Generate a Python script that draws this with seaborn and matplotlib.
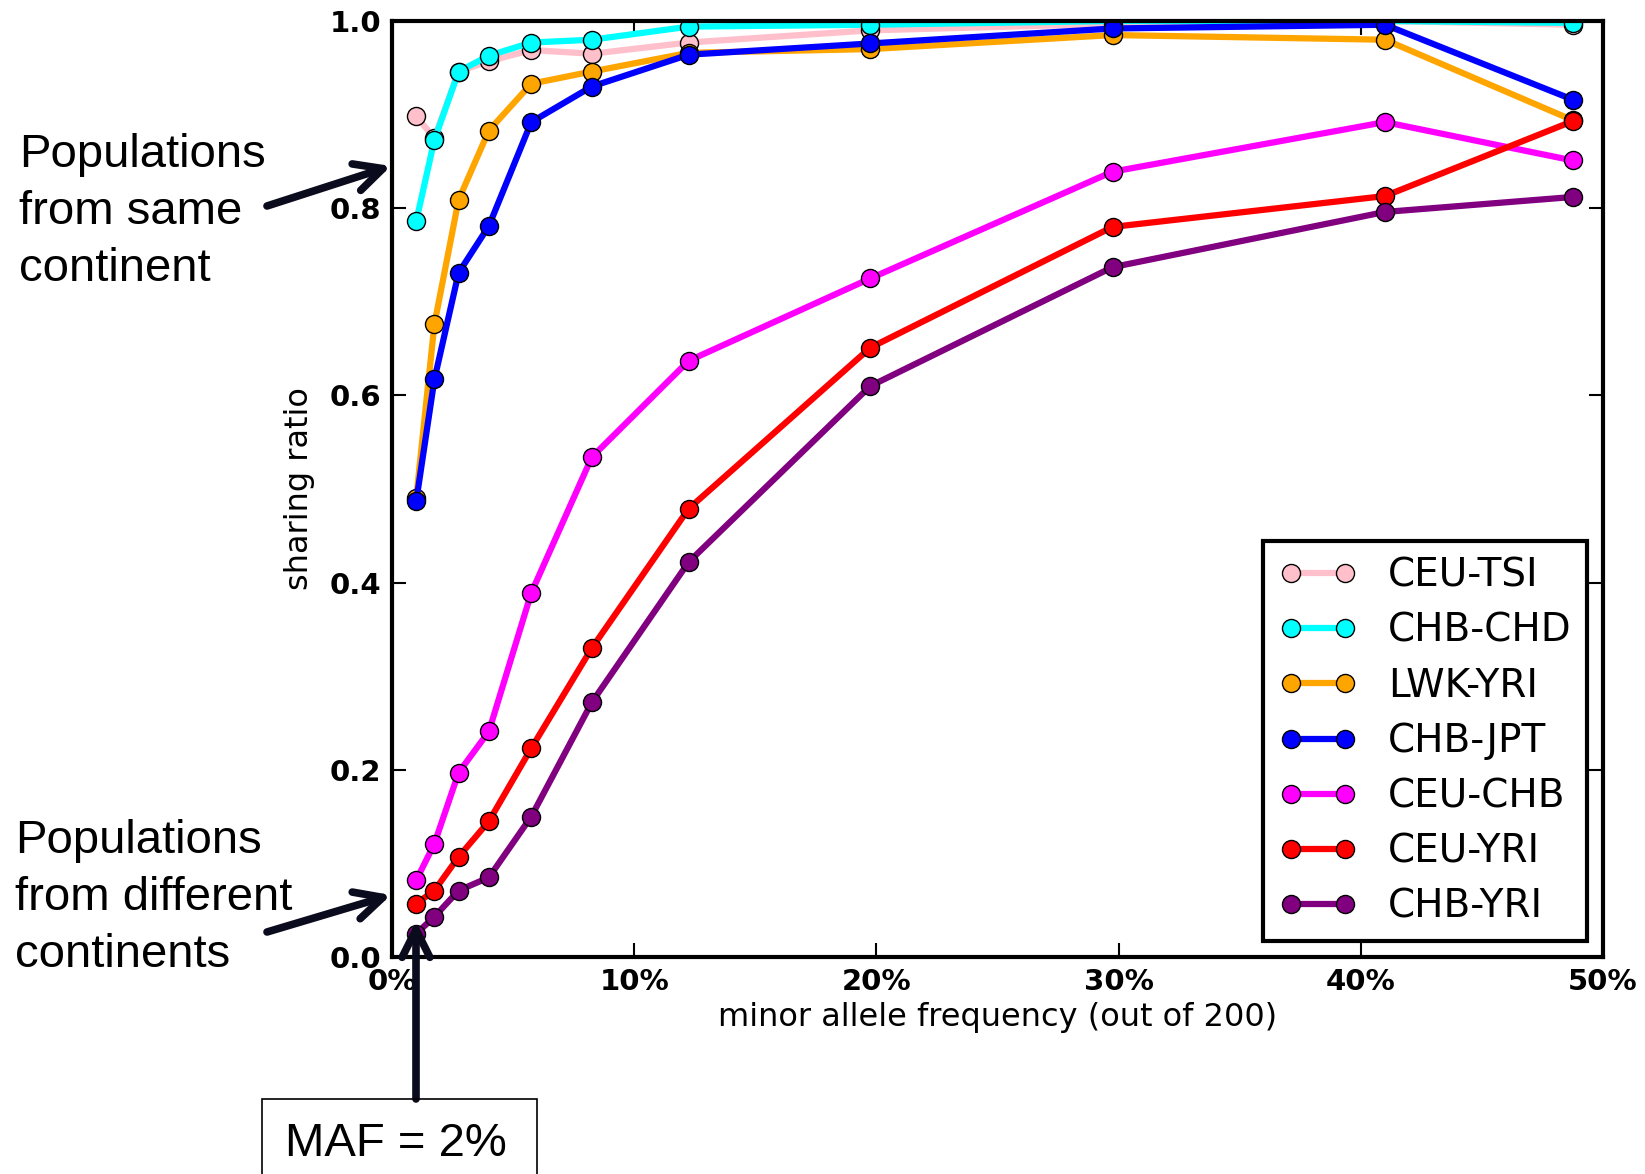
import matplotlib
matplotlib.use("Agg")
import matplotlib.pyplot as plt
from matplotlib.patches import Rectangle
from matplotlib.ticker import FuncFormatter
import seaborn as sns
import pandas as pd

# ---- data ----
maf_pct = [1.0, 1.75, 2.75, 4.0, 5.75, 8.25, 12.25, 19.75, 29.75, 41.0, 48.75]
pairs = ["CEU-TSI", "CHB-CHD", "LWK-YRI", "CHB-JPT", "CEU-CHB", "CEU-YRI", "CHB-YRI"]
ceu_tsi = [0.898, 0.875, 0.946, 0.957, 0.969, 0.965, 0.977, 0.990, 0.997, 1.000, 0.996]
chb_chd = [0.786, 0.873, 0.946, 0.963, 0.977, 0.980, 0.994, 0.996, 1.000, 1.000, 0.998]
lwk_yri = [0.490, 0.676, 0.809, 0.883, 0.933, 0.946, 0.966, 0.970, 0.985, 0.980, 0.894]
chb_jpt = [0.487, 0.617, 0.731, 0.781, 0.892, 0.930, 0.964, 0.976, 0.992, 0.996, 0.916]
ceu_chb = [0.082, 0.121, 0.197, 0.241, 0.389, 0.534, 0.637, 0.725, 0.839, 0.892, 0.851]
ceu_yri = [0.057, 0.071, 0.107, 0.145, 0.223, 0.330, 0.479, 0.651, 0.780, 0.813, 0.893]
chb_yri = [0.025, 0.043, 0.071, 0.085, 0.150, 0.272, 0.422, 0.610, 0.737, 0.796, 0.812]
series = [ceu_tsi, chb_chd, lwk_yri, chb_jpt, ceu_chb, ceu_yri, chb_yri]
colors = ["pink", "cyan", "orange", "blue", "magenta", "red", "purple"]
x_ticks = [0, 10, 20, 30, 40, 50]
y_ticks = [0.0, 0.2, 0.4, 0.6, 0.8, 1.0]

rows = []
for name, vals in zip(pairs, series):
    for xv, yv in zip(maf_pct, vals):
        rows.append({"maf": xv, "ratio": yv, "pair": name})
df = pd.DataFrame(rows)

W, H = 1645, 1174
fig = plt.figure(figsize=(W / 100, H / 100), dpi=100)
ax = fig.add_axes([392 / W, 1 - 957 / H, (1603 - 392) / W, (957 - 21) / H])

for name, col in zip(pairs, colors):
    sub = df[df["pair"] == name]
    sns.lineplot(data=sub, x="maf", y="ratio", ax=ax, color=col, label=name,
                 marker="o", markersize=13, markeredgecolor="black",
                 markeredgewidth=1.0, linewidth=4.5, estimator=None, sort=False)

ax.set_xlim(0, 50)
ax.set_ylim(0, 1.0)
ax.set_xticks(x_ticks)
ax.set_yticks(y_ticks)
ax.xaxis.set_major_formatter(FuncFormatter(lambda v, p: f"{int(round(v))}%"))
ax.yaxis.set_major_formatter(FuncFormatter(lambda v, p: f"{v:.1f}"))
ax.tick_params(direction="in", length=10, width=1.5, top=True, right=True,
               labelsize=21, pad=8)
for lab in ax.get_xticklabels() + ax.get_yticklabels():
    lab.set_fontweight("semibold")
for sp in ax.spines.values():
    sp.set_linewidth(3)
    sp.set_color("black")
ax.set_xlabel("minor allele frequency (out of 200)", fontsize=23, labelpad=4)
ax.set_ylabel("sharing ratio", fontsize=23, labelpad=10)

leg = ax.legend(loc="lower right", bbox_to_anchor=((1587 - 392) / 1211, (957 - 941) / 936),
                borderaxespad=0, fontsize=28, fancybox=False, framealpha=1,
                edgecolor="black", labelspacing=0.44, handlelength=2.0,
                handletextpad=0.8, borderpad=0.4, numpoints=2)
leg.get_frame().set_linewidth(3)

# ---- annotations (figure pixel coordinates, origin top-left) ----
def fp(x, y):
    return (x / W, 1 - y / H)

afont = dict(family=["Liberation Sans", "DejaVu Sans"], fontsize=34)
fig.text(*fp(19, 281), "Populations\nfrom same\ncontinent", ha="left", va="baseline",
         linespacing=1.38, **afont)
fig.text(*fp(15, 967), "Populations\nfrom different\ncontinents", ha="left", va="baseline",
         linespacing=1.38, **afont)

arrow_kw = dict(arrowstyle="->", lw=5.5, color="#0b0b1e", mutation_scale=50,
                shrinkA=0, shrinkB=0)
ax.annotate("", xy=fp(391, 166), xycoords="figure fraction",
            xytext=fp(267, 206), textcoords="figure fraction",
            arrowprops=arrow_kw, annotation_clip=False)
ax.annotate("", xy=fp(391, 895), xycoords="figure fraction",
            xytext=fp(267, 932), textcoords="figure fraction",
            arrowprops=arrow_kw, annotation_clip=False)
ax.annotate("", xy=fp(416, 921), xycoords="figure fraction",
            xytext=fp(416, 1099), textcoords="figure fraction",
            arrowprops=arrow_kw, annotation_clip=False)

bx0, by0 = fp(262, 1200)
bx1, by1 = fp(537, 1099)
fig.patches.append(Rectangle((bx0, by0), bx1 - bx0, by1 - by0, transform=fig.transFigure,
                             fill=False, edgecolor="black", linewidth=1.2))
fig.text(*fp(285, 1156), "MAF = 2%", ha="left", va="baseline", **afont)

fig.savefig("out.png", dpi=100)
